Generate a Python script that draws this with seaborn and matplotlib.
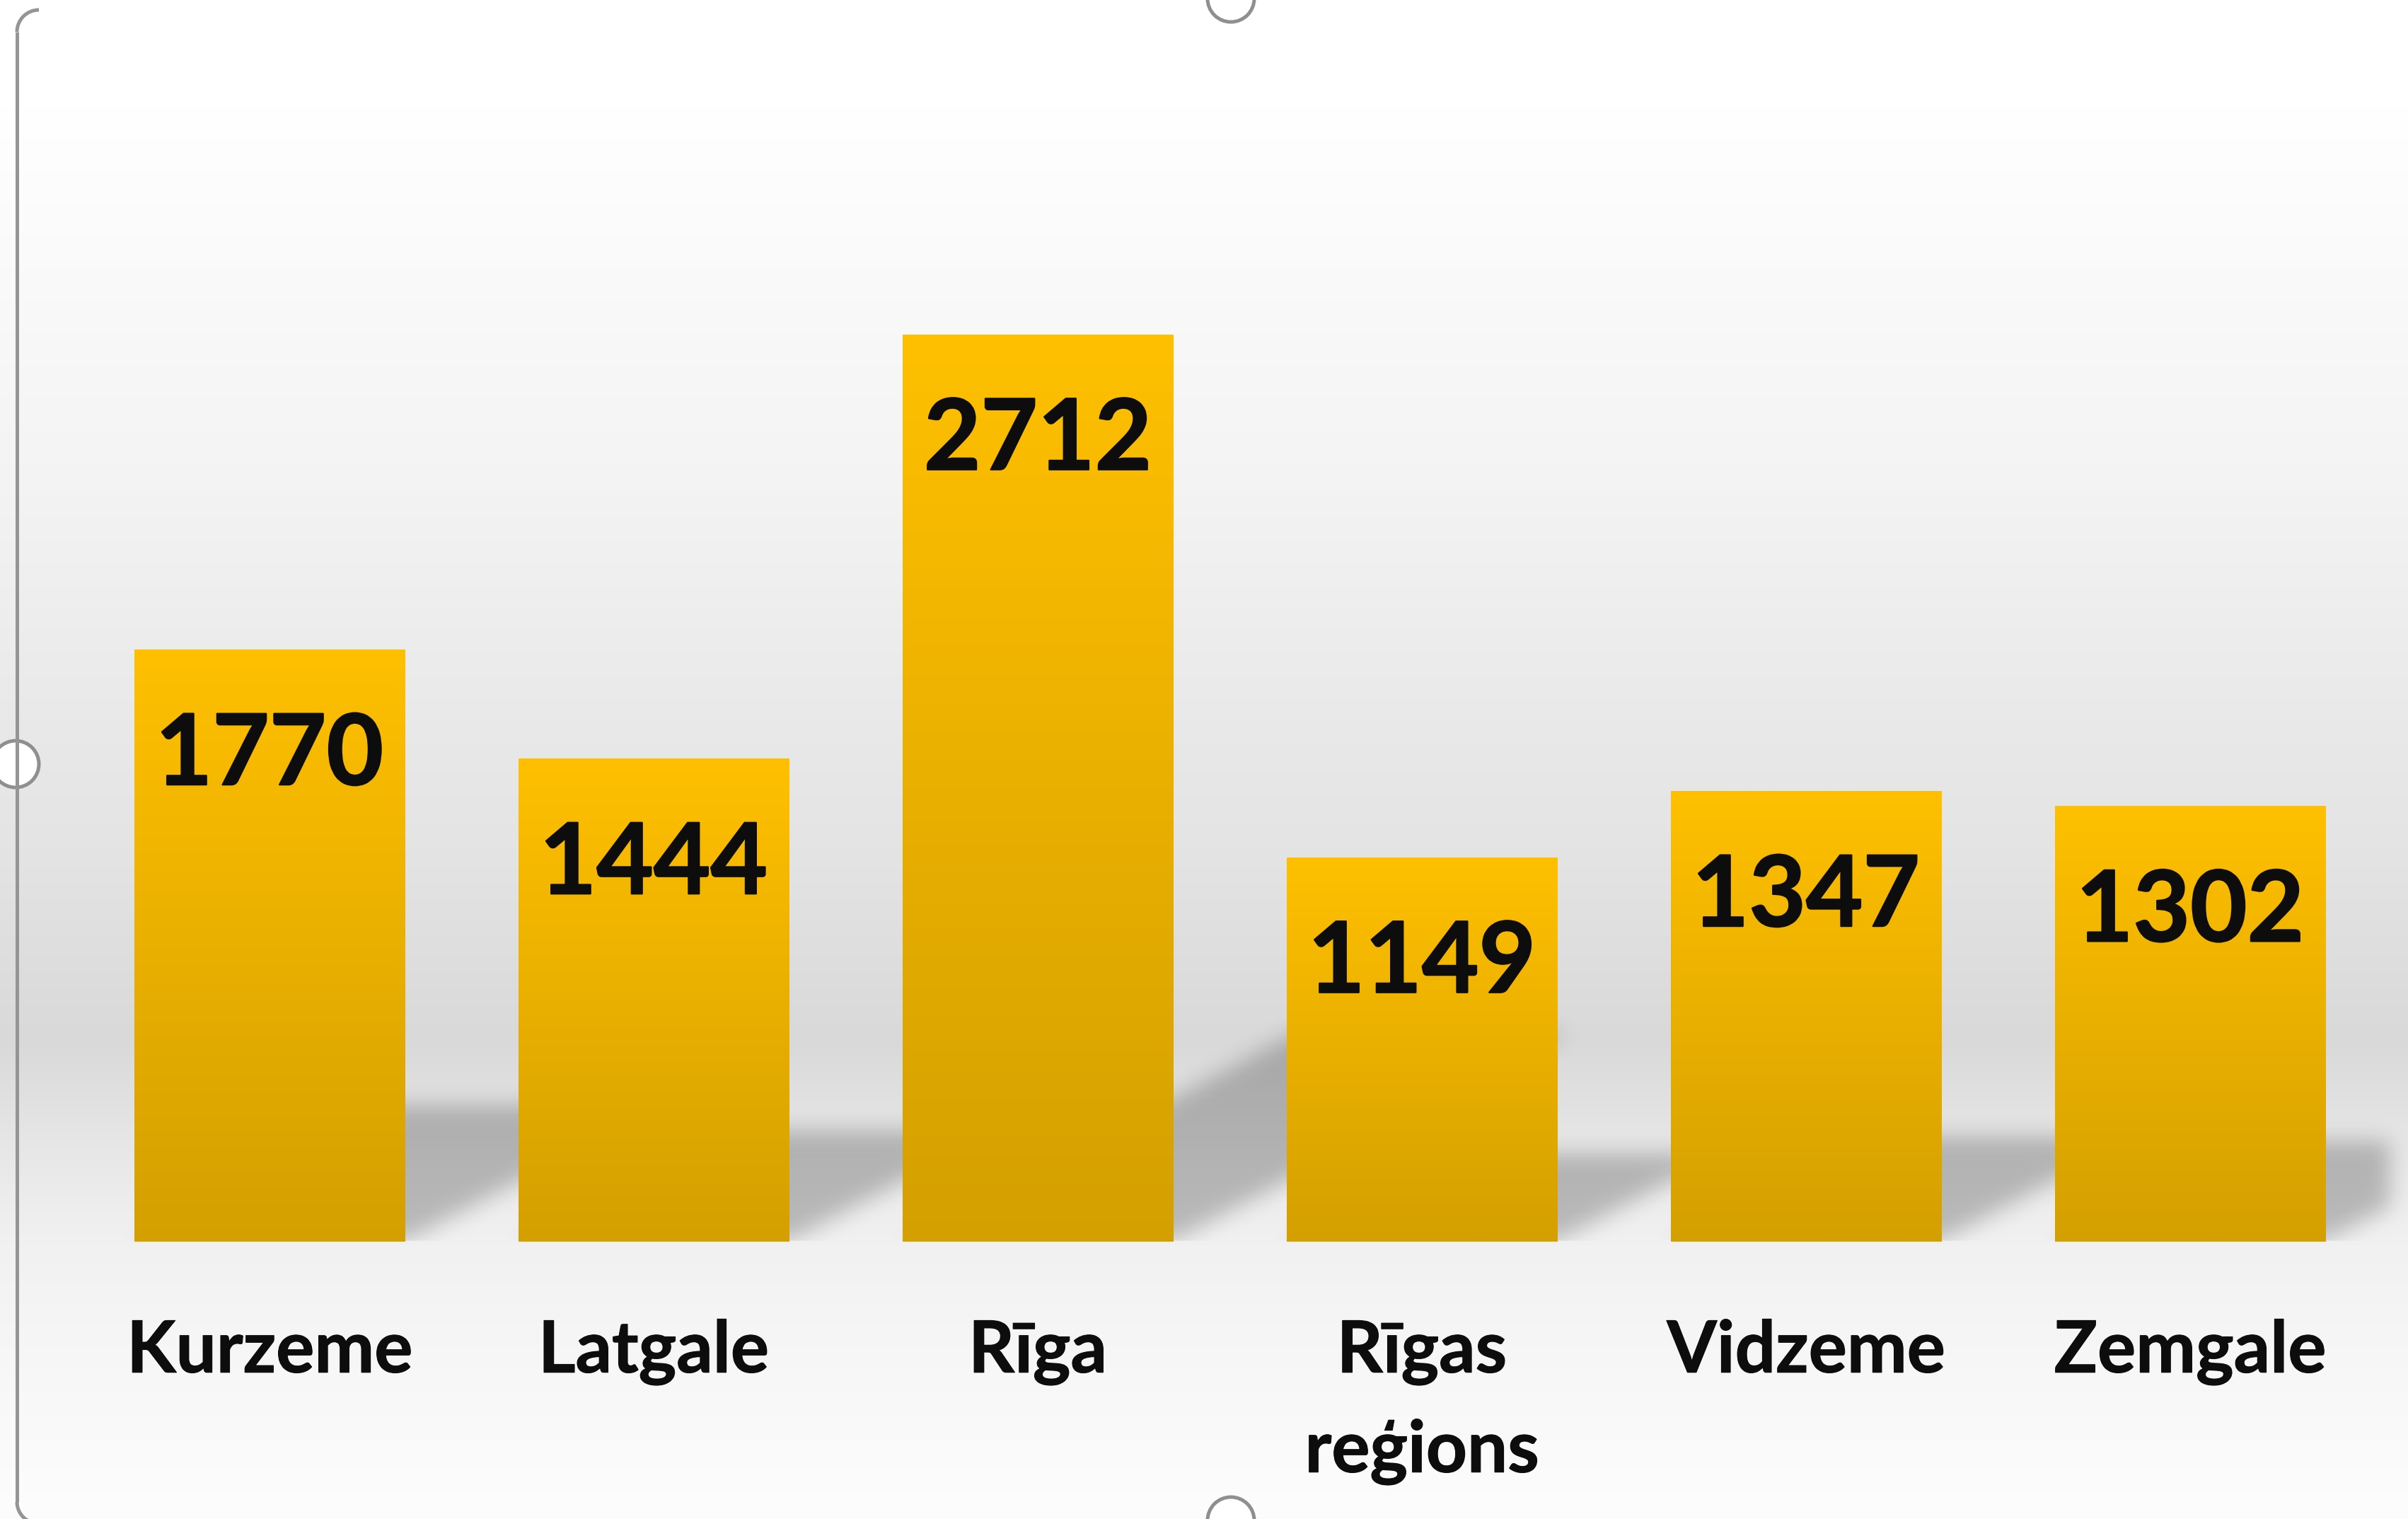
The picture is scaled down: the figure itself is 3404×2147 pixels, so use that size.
import numpy as np
import pandas as pd
import matplotlib
matplotlib.use("Agg")
import matplotlib.pyplot as plt
import matplotlib.patheffects as pe
from matplotlib.colors import LinearSegmentedColormap
from matplotlib.patches import Circle, Arc
import seaborn as sns

# data
regions = ["Kurzeme", "Latgale", "Rīga", "Rīgas\nreģions", "Vidzeme", "Zemgale"]
counts = [1770, 1444, 2712, 1149, 1347, 1302]

bar_top_color = "#FFC000"
bar_bottom_color = "#D4A000"
text_color = "#0d0d0d"

# canvas geometry (pixels)
W, H, DPI = 3405, 2147, 100
px_per_cat = 543
px_per_unit = 0.4728
x0_px = 381
base_px = 1755
plot_right_px = 3380
bar_width = 0.704

# background grey profile (row from top -> grey level)
bg_rows = [0, 150, 700, 1050, 1200, 1470, 1600, 1700, 1760, 1870, 2000, 2147]
bg_gray = [255, 255, 243, 232, 228, 217, 229, 237, 241, 245, 249, 253]


def gaussian_blur(a, sigma):
    r = int(3 * sigma)
    k = np.exp(-0.5 * (np.arange(-r, r + 1) / sigma) ** 2)
    k /= k.sum()
    a = np.apply_along_axis(lambda m: np.convolve(m, k, mode="same"), 0, a)
    a = np.apply_along_axis(lambda m: np.convolve(m, k, mode="same"), 1, a)
    return a


sns.set_theme(style="white")
plt.rcParams["font.family"] = ["Lato", "DejaVu Sans"]

fig = plt.figure(figsize=(W / DPI, H / DPI), dpi=DPI)
ax = fig.add_axes([0, 0, 1, 1])

df = pd.DataFrame({"region": regions, "count": counts})
sns.barplot(data=df, x="region", y="count", color=bar_top_color, saturation=1,
            width=bar_width, ax=ax, zorder=3, linewidth=0)

xlim = (-x0_px / px_per_cat, (W - x0_px) / px_per_cat)
ylim = (-(H - base_px) / px_per_unit, base_px / px_per_unit)

# background: soft wall gradient with a darker band just above the floor
gray = np.interp(np.arange(H), bg_rows, bg_gray) / 255
bg = np.repeat(gray[:, None], 3, axis=1)[:, None, :]
ax.imshow(bg, extent=(*xlim, *ylim), origin="upper", aspect="auto",
          zorder=0, interpolation="bilinear")

# perspective shadows behind the bars
nx, ny = W // 3, H // 3
xs = np.linspace(*xlim, nx)
ys = np.linspace(*ylim, ny)
X, Y = np.meshgrid(xs, ys)
skew = 1.89 * px_per_unit / px_per_cat
half = bar_width / 2
x_right = (plot_right_px - x0_px) / px_per_cat
mask = np.zeros_like(X)
for i, v in enumerate(counts):
    inside = (Y >= 0) & (Y <= 0.23 * v) & (X >= i - half + skew * Y) & (X <= i + half + skew * Y)
    mask[inside] = 1
mask[X > x_right] = 0
mask = gaussian_blur(mask, 5)
mask[Y < 0] = 0
shadow = np.zeros((ny, nx, 4))
shadow[..., 3] = 0.23 * mask
ax.imshow(shadow, extent=(*xlim, *ylim), origin="lower", aspect="auto", zorder=1)

# vertical gradient fill inside each bar
cmap = LinearSegmentedColormap.from_list("bar", [bar_bottom_color, bar_top_color])
grad = np.linspace(0, 1, 256)[:, None]
for p in list(ax.patches):
    x, y, w, h = p.get_x(), p.get_y(), p.get_width(), p.get_height()
    im = ax.imshow(grad, extent=(x, x + w, y, y + h), origin="lower", cmap=cmap,
                   aspect="auto", zorder=3.5)
    im.set_clip_path(p)

# slightly thickened bold text, closer to the screenshot's Calibri Bold
thick_values = [pe.withStroke(linewidth=1.6, foreground=text_color)]
thick_labels = [pe.withStroke(linewidth=0.8, foreground=text_color)]

# value labels inside bars
for i, v in enumerate(counts):
    ax.annotate(f"{v}", xy=(i, v), xytext=(0, -137.5), textcoords="offset points",
                ha="center", va="baseline", fontsize=100, fontweight="bold",
                color=text_color, zorder=5, path_effects=thick_values)

# category labels below the bars, one text per line
line_step = 141 * 72 / DPI
for i, name in enumerate(regions):
    for j, line in enumerate(name.split("\n")):
        ax.annotate(line, xy=(i, 0), xytext=(0, -133 - j * line_step),
                    textcoords="offset points", ha="center", va="baseline",
                    fontsize=73, fontweight="bold", color=text_color, zorder=5,
                    path_effects=thick_labels)

ax.set_xlim(xlim)
ax.set_ylim(ylim)
ax.axis("off")

# selection frame handles of the screenshot
ov = fig.add_axes([0, 0, 1, 1], zorder=10)
ov.set_xlim(0, W)
ov.set_ylim(H, 0)
ov.axis("off")
ov.plot([24, 24], [45, 2123], color="#959595", lw=3.6, solid_capstyle="butt")
ov.add_patch(Arc((55, 45), 62, 62, theta1=180, theta2=270, color="#959595", lw=3.6))
ov.add_patch(Arc((54, 2123), 60, 60, theta1=90, theta2=180, color="#959595", lw=3.6))
for cx, cy in [(22, 1080), (1740, -2), (1740, H + 2)]:
    ov.add_patch(Circle((cx, cy), 33, facecolor="white", edgecolor="#8f8f8f", lw=3.6))

fig.savefig("out.png", dpi=DPI)
